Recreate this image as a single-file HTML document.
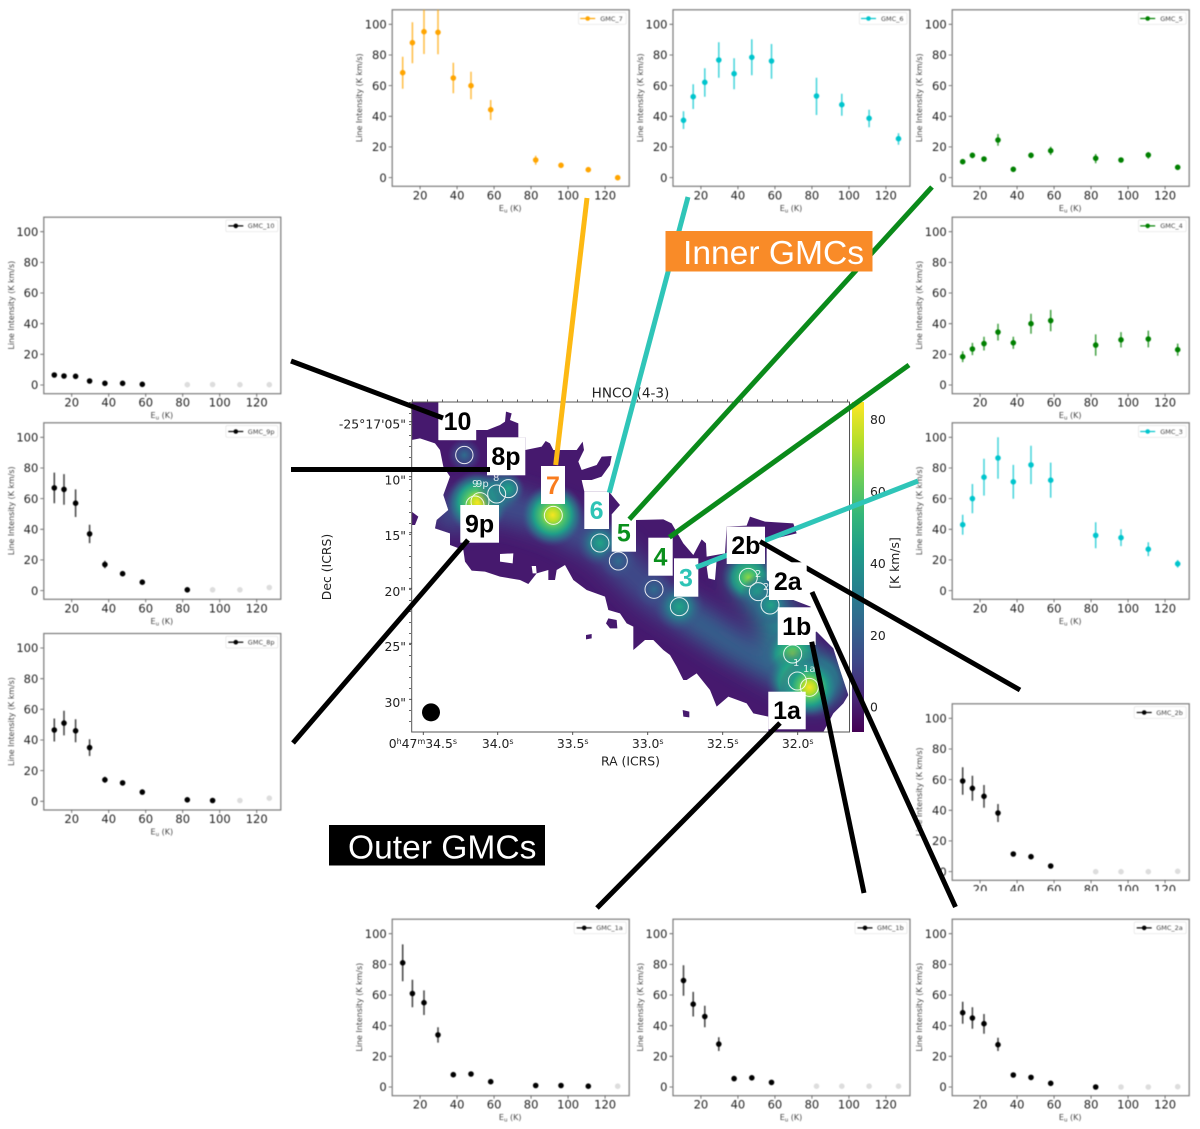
<!DOCTYPE html>
<html><head><meta charset="utf-8"><title>HNCO GMCs</title>
<style>
html,body{margin:0;padding:0;background:#fff}
svg{display:block;font-family:"DejaVu Sans",sans-serif}
.t{font-size:11.5px;fill:#222}
.l{font-size:7.9px;fill:#444}
.g{font-size:6.5px;fill:#444}
.m{font-size:12.4px;fill:#222}
.b{font-family:"Liberation Sans",sans-serif;font-weight:bold;font-size:25px;text-anchor:middle}
.h{font-family:"Liberation Sans",sans-serif;font-size:33.6px;fill:#fff}
.w{font-size:10px;fill:#fff;opacity:.85}
.e{fill:none;stroke-width:1.6;opacity:.7}
.p{fill:none;stroke-width:5.6;stroke-linecap:round}
.d{fill:none;stroke:#ddd;stroke-width:5.6;stroke-linecap:round}
.s{fill:#fff;stroke:#e4e4e4;stroke-width:.7}
</style></head><body>
<svg xmlns="http://www.w3.org/2000/svg" width="1200" height="1129" viewBox="0 0 1200 1129">
<defs>
<g id="ax">
<rect x=".5" y=".5" width="237" height="176.5" fill="#fff" stroke="#7a7a7a" stroke-width="1.2"/>
<path d="M28.4 177v3M65.4 177v3M102.4 177v3M139.4 177v3M176.4 177v3M213.4 177v3M0 168.3h-3M0 137.6h-3M0 107h-3M0 76.3h-3M0 45.7h-3M0 15h-3" stroke="#555" stroke-width=".8"/>
<g class="t" text-anchor="middle"><text x="28.4" y="190">20</text><text x="65.4" y="190">40</text><text x="102.4" y="190">60</text><text x="139.4" y="190">80</text><text x="176.4" y="190">100</text><text x="213.4" y="190">120</text></g>
<g class="t" text-anchor="end"><text x="-5" y="172.5">0</text><text x="-5" y="141.8">20</text><text x="-5" y="111.2">40</text><text x="-5" y="80.5">60</text><text x="-5" y="49.9">80</text><text x="-5" y="19.2">100</text></g>
<text class="l" transform="translate(-29.5 88.5) rotate(-90)" text-anchor="middle">Line Intensity (K km/s)</text>
<text class="l" x="118.5" y="201.5" text-anchor="middle" style="font-size:8px">E<tspan font-size="5.5" dy="1.5">u</tspan><tspan dy="-1.5"> (K)</tspan></text>
</g>
<linearGradient id="vir" x1="0" y1="1" x2="0" y2="0"><stop offset="0" stop-color="#440154"/><stop offset=".11" stop-color="#482878"/><stop offset=".22" stop-color="#3e4a89"/><stop offset=".33" stop-color="#31688e"/><stop offset=".44" stop-color="#26828e"/><stop offset=".55" stop-color="#1f9e89"/><stop offset=".66" stop-color="#35b779"/><stop offset=".77" stop-color="#6ece58"/><stop offset=".88" stop-color="#b5de2b"/><stop offset="1" stop-color="#fde725"/></linearGradient>
<radialGradient id="gY"><stop offset="0" stop-color="#f6e620"/><stop offset=".2" stop-color="#b5de2b"/><stop offset=".38" stop-color="#4ec36b"/><stop offset=".6" stop-color="#1f9e89"/><stop offset=".8" stop-color="#2c7a8e" stop-opacity=".6"/><stop offset="1" stop-color="#3e4a89" stop-opacity="0"/></radialGradient>
<radialGradient id="gG"><stop offset="0" stop-color="#8bd646"/><stop offset=".3" stop-color="#35b779"/><stop offset=".6" stop-color="#1f9e89" stop-opacity=".8"/><stop offset="1" stop-color="#3e4a89" stop-opacity="0"/></radialGradient>
<radialGradient id="gT"><stop offset="0" stop-color="#20a486"/><stop offset=".45" stop-color="#26828e" stop-opacity=".85"/><stop offset="1" stop-color="#3e4a89" stop-opacity="0"/></radialGradient>
<radialGradient id="gB"><stop offset="0" stop-color="#2f6c8e"/><stop offset=".55" stop-color="#3b528b" stop-opacity=".7"/><stop offset="1" stop-color="#3e4a89" stop-opacity="0"/></radialGradient>
<filter id="bl" x="-20%" y="-20%" width="140%" height="140%"><feGaussianBlur stdDeviation="32"/></filter>
<clipPath id="cp"><path d="M35 66H115V180H228V150H262L300 135 315 125 318 95 335 100 330 120 355 130V172H376V210L425 200 437 183 450 190 460 210H530L548 185 552 210 535 245 545 270 590 255 605 230 635 228 630 255 605 290 575 300H545L553 335H627L635 345 660 375 635 403 708 420 790 418 815 430 850 490 880 525 905 478 918 490 920 530 975 520 980 440 1040 437 1050 410 1095 425 1180 430 1190 460 1100 482V600L1180 660 1232 680V760L1250 755 1300 805 1320 870 1345 945 1330 970 1300 1000 1270 1056H1105V1010L1060 1000 1040 970 985 950 950 980 930 930 890 880 860 900H850L830 860 810 825 790 810 760 780H735L700 810V740L680 730 660 700 625 690 615 650 560 630 520 600 495 555 470 570 465 600H445V570L410 580 385 612 360 600 300 590 255 575 215 572 195 545 190 510 150 495V460L105 445 110 420 145 390 130 345 150 290 130 260 120 210 105 190 60 175 35 180Z"/></clipPath>
</defs>

<g style="filter:blur(.4px)">
<!-- GMC_7 -->
<g transform="translate(391.7 9.3)"><use href="#ax"/>
<rect class="s" x="186.8" y="3.3" width="47.7" height="11.7" rx="1.5"/><path d="M188.5 9.2h15" stroke="#ffa500" stroke-width="1.2"/><circle cx="196" cy="9.2" r="2.3" fill="#ffa500"/><text class="g" x="208.5" y="11.5">GMC_7</text>
<path class="e" stroke="#ffa500" d="M11 47.4V79.4M20.7 13V54M32.3 .5V44.7M46.3 .5V45M61.6 53.4V84M79.3 62.4V90M99 90.7V110.7M144 146.4V155.4"/>
<path class="p" stroke="#ffa500" d="M11 63.4h0M20.7 33.4h0M32.3 22.4h0M46.3 23h0M61.6 68.7h0M79.3 76.4h0M99 100.4h0M144 150.7h0M169.3 156h0M196.6 160.4h0M226 168.4h0"/></g>
<!-- GMC_6 -->
<g transform="translate(672.5 9.3)"><use href="#ax"/>
<rect class="s" x="186.8" y="3.3" width="47.7" height="11.7" rx="1.5"/><path d="M188.5 9.2h15" stroke="#00c5cd" stroke-width="1.2"/><circle cx="196" cy="9.2" r="2.3" fill="#00c5cd"/><text class="g" x="208.5" y="11.5">GMC_6</text>
<path class="e" stroke="#00c5cd" d="M11 102V119.7M20.7 75V99.7M32.3 59V87.4M46.3 33V68.4M61.6 49V80M79.3 30V66M99 34.7V69.4M144 68.4V105.7M169.3 84.4V106.4M196.6 100.4V118M226 124V135.4"/>
<path class="p" stroke="#00c5cd" d="M11 111h0M20.7 87.4h0M32.3 73h0M46.3 50.7h0M61.6 64.4h0M79.3 48h0M99 51.7h0M144 86.7h0M169.3 95.4h0M196.6 109h0M226 129.4h0"/></g>
<!-- GMC_5 -->
<g transform="translate(951.7 9.3)"><use href="#ax"/>
<rect class="s" x="186.8" y="3.3" width="47.7" height="11.7" rx="1.5"/><path d="M188.5 9.2h15" stroke="#008000" stroke-width="1.2"/><circle cx="196" cy="9.2" r="2.3" fill="#008000"/><text class="g" x="208.5" y="11.5">GMC_5</text>
<path class="e" stroke="#008000" d="M11 150V155M20.7 143.4V149M32.3 147.4V152.4M46.3 124.7V136.4M61.6 158V162M79.3 143.4V149M99 137.4V145.7M144 144.7V154M169.3 148.7V153M196.6 142.7V149.4M226 156V160"/>
<path class="p" stroke="#008000" d="M11 152.4h0M20.7 146h0M32.3 149.7h0M46.3 130.7h0M61.6 160h0M79.3 146h0M99 141.4h0M144 149h0M169.3 150.7h0M196.6 145.7h0M226 158h0"/></g>
<!-- GMC_4 -->
<g transform="translate(951.7 216.7)"><use href="#ax"/>
<rect class="s" x="186.8" y="3.3" width="47.7" height="11.7" rx="1.5"/><path d="M188.5 9.2h15" stroke="#008000" stroke-width="1.2"/><circle cx="196" cy="9.2" r="2.3" fill="#008000"/><text class="g" x="208.5" y="11.5">GMC_4</text>
<path class="e" stroke="#008000" d="M11 134.6V145.4M20.7 126.2V138.4M32.3 120V133.8M46.3 107V123.8M61.6 120V132.2M79.3 97V117M99 93.2V114.6M144 117.7V139.1M169.3 115.4V130.8M196.6 113.9V130.7M226 126.9V139.1"/>
<path class="p" stroke="#008000" d="M11 140h0M20.7 132.3h0M32.3 126.9h0M46.3 115.4h0M61.6 126.1h0M79.3 107h0M99 103.9h0M144 128.4h0M169.3 123.1h0M196.6 122.3h0M226 133h0"/></g>
<!-- GMC_3 -->
<g transform="translate(951.7 422.3)"><use href="#ax"/>
<rect class="s" x="186.8" y="3.3" width="47.7" height="11.7" rx="1.5"/><path d="M188.5 9.2h15" stroke="#00c5cd" stroke-width="1.2"/><circle cx="196" cy="9.2" r="2.3" fill="#00c5cd"/><text class="g" x="208.5" y="11.5">GMC_3</text>
<path class="e" stroke="#00c5cd" d="M11 92.4V112.4M20.7 61.7V90.9M32.3 36.5V73.3M46.3 15V56.4M61.6 42.6V76.4M79.3 23.4V61.8M99 40.3V75.5M144 100V126M169.3 107V123.8M196.6 120V133.8M226 137.7V145.3"/>
<path class="p" stroke="#00c5cd" d="M11 102.4h0M20.7 76.3h0M32.3 54.9h0M46.3 35.7h0M61.6 59.5h0M79.3 42.6h0M99 57.9h0M144 113.1h0M169.3 115.4h0M196.6 126.9h0M226 141.5h0"/></g>
<!-- GMC_2b -->
<g transform="translate(951.7 703.3)"><use href="#ax"/>
<rect class="s" x="182.5" y="3.3" width="52" height="11.7" rx="1.5"/><path d="M185 9.2h15" stroke="#000" stroke-width="1.2"/><circle cx="192.5" cy="9.2" r="2.3" fill="#000"/><text class="g" x="204.5" y="11.5">GMC_2b</text>
<path class="e" stroke="#000" d="M11 64V91.4M20.7 72.4V97.4M32.3 81.7V104.4M46.3 100.7V118.7"/>
<path class="d" d="M144 168.4h0M169.3 168.4h0M196.6 168.4h0M226 168h0"/>
<path class="p" stroke="#000" d="M11 77.7h0M20.7 85h0M32.3 93h0M46.3 109.7h0M61.6 150.7h0M79.3 153.4h0M99 162.7h0"/></g>
<rect x="900" y="891" width="300" height="27" fill="#fff"/>
<!-- GMC_1a -->
<g transform="translate(391.7 918.7)"><use href="#ax"/>
<rect class="s" x="182.5" y="3.3" width="52" height="11.7" rx="1.5"/><path d="M185 9.2h15" stroke="#000" stroke-width="1.2"/><circle cx="192.5" cy="9.2" r="2.3" fill="#000"/><text class="g" x="204.5" y="11.5">GMC_1a</text>
<path class="e" stroke="#000" d="M11 25.7V62.5M20.7 61V88.6M32.3 71.7V96.3M46.3 108.5V123.9"/>
<path class="d" d="M226 167.5h0"/>
<path class="p" stroke="#000" d="M11 44.1h0M20.7 74.8h0M32.3 84h0M46.3 116.2h0M61.6 156h0M79.3 155.3h0M99 163h0M144 166.8h0M169.3 166.8h0M196.6 167.5h0"/></g>
<!-- GMC_1b -->
<g transform="translate(672.5 918.7)"><use href="#ax"/>
<rect class="s" x="182.5" y="3.3" width="52" height="11.7" rx="1.5"/><path d="M185 9.2h15" stroke="#000" stroke-width="1.2"/><circle cx="192.5" cy="9.2" r="2.3" fill="#000"/><text class="g" x="204.5" y="11.5">GMC_1b</text>
<path class="e" stroke="#000" d="M11 46.5V77.1M20.7 73.2V97.8M32.3 87.1V108.5M46.3 118.5V132.3"/>
<path class="d" d="M144 167.5h0M169.3 167.5h0M196.6 167.5h0M226 167.5h0"/>
<path class="p" stroke="#000" d="M11 61.8h0M20.7 85.5h0M32.3 97.8h0M46.3 125.4h0M61.6 159.9h0M79.3 159.1h0M99 163.7h0"/></g>
<!-- GMC_2a -->
<g transform="translate(951.7 918.7)"><use href="#ax"/>
<rect class="s" x="182.5" y="3.3" width="52" height="11.7" rx="1.5"/><path d="M185 9.2h15" stroke="#000" stroke-width="1.2"/><circle cx="192.5" cy="9.2" r="2.3" fill="#000"/><text class="g" x="204.5" y="11.5">GMC_2a</text>
<path class="e" stroke="#000" d="M11 83V105M20.7 88.6V110M32.3 95.3V115M46.3 119V132.3"/>
<path class="d" d="M169.3 168.3h0M196.6 168.3h0M226 168h0"/>
<path class="p" stroke="#000" d="M11 94h0M20.7 99.3h0M32.3 105h0M46.3 126h0M61.6 156.3h0M79.3 158.7h0M99 164.6h0M144 168.3h0"/></g>
<!-- GMC_10 -->
<g transform="translate(43.3 216.7)"><use href="#ax"/>
<rect class="s" x="182.5" y="3.3" width="52" height="11.7" rx="1.5"/><path d="M185 9.2h15" stroke="#000" stroke-width="1.2"/><circle cx="192.5" cy="9.2" r="2.3" fill="#000"/><text class="g" x="204.5" y="11.5">GMC_10</text>
<path class="d" d="M144 168h0M169.3 167.8h0M196.6 168h0M226 168h0"/>
<path class="p" stroke="#000" d="M11 158.3h0M20.7 159.3h0M32.3 159.6h0M46.3 164.3h0M61.6 166.6h0M79.3 166.6h0M99 167.6h0"/></g>
<!-- GMC_9p -->
<g transform="translate(43.3 422.3)"><use href="#ax"/>
<rect class="s" x="182.5" y="3.3" width="52" height="11.7" rx="1.5"/><path d="M185 9.2h15" stroke="#000" stroke-width="1.2"/><circle cx="192.5" cy="9.2" r="2.3" fill="#000"/><text class="g" x="204.5" y="11.5">GMC_9p</text>
<path class="e" stroke="#000" d="M11 50.3V80.9M20.7 51.8V82.4M32.3 67.1V94.7M46.3 102.4V120.8M61.6 138.4V146M79.3 149.9V152.9"/>
<path class="d" d="M169.3 167.5h0M196.6 167.5h0M226 165.2h0"/>
<path class="p" stroke="#000" d="M11 65.6h0M20.7 67.1h0M32.3 80.9h0M46.3 111.6h0M61.6 142.2h0M79.3 151.4h0M99 159.9h0M144 167.5h0"/></g>
<!-- GMC_8p -->
<g transform="translate(43.3 633)"><use href="#ax"/>
<rect class="s" x="182.5" y="3.3" width="52" height="11.7" rx="1.5"/><path d="M185 9.2h15" stroke="#000" stroke-width="1.2"/><circle cx="192.5" cy="9.2" r="2.3" fill="#000"/><text class="g" x="204.5" y="11.5">GMC_8p</text>
<path class="e" stroke="#000" d="M11 85.5V108.5M20.7 77.8V102.4M32.3 86.3V109.3M46.3 106.2V123M61.6 143.8V149.8M79.3 148.4V151.4"/>
<path class="d" d="M196.6 167.5h0M226 165.2h0"/>
<path class="p" stroke="#000" d="M11 97h0M20.7 90.1h0M32.3 97.8h0M46.3 114.6h0M61.6 146.8h0M79.3 149.9h0M99 159.1h0M144 166.8h0M169.3 167.5h0"/></g>
</g>

<!-- map -->
<g transform="translate(400 380) scale(.33333)">
<rect x="35" y="66" width="1313" height="990" fill="#fff"/>
<g clip-path="url(#cp)">
<rect x="35" y="66" width="1313" height="990" fill="#46196e"/>
<g filter="url(#bl)" fill="none" stroke-linecap="round" stroke-linejoin="round">
<path d="M150 400L300 370 460 420 600 490 760 640 1000 790 1200 900" stroke="#3d4d8a" stroke-width="105"/>
<path d="M1040 590L1110 680 1185 830 1230 925" stroke="#26828e" stroke-width="110"/>
<path d="M830 680L1000 810 1130 880" stroke="#31688e" stroke-width="60"/>
</g>
<circle cx="232" cy="368" r="95" fill="url(#gY)"/>
<circle cx="458" cy="405" r="95" fill="url(#gY)"/>
<circle cx="300" cy="335" r="70" fill="url(#gT)"/>
<circle cx="325" cy="326" r="50" fill="url(#gT)"/>
<circle cx="193" cy="225" r="50" fill="url(#gB)"/>
<circle cx="600" cy="489" r="70" fill="url(#gT)"/>
<circle cx="655" cy="543" r="55" fill="url(#gB)"/>
<circle cx="762" cy="628" r="55" fill="url(#gB)"/>
<circle cx="838" cy="680" r="75" fill="url(#gT)"/>
<circle cx="1045" cy="592" r="80" fill="url(#gG)"/>
<circle cx="1078" cy="638" r="55" fill="url(#gT)"/>
<circle cx="1112" cy="675" r="60" fill="url(#gT)"/>
<circle cx="1255" cy="900" r="120" fill="url(#gT)"/>
<circle cx="1178" cy="822" r="85" fill="url(#gG)"/>
<circle cx="1192" cy="900" r="95" fill="url(#gG)"/>
<circle cx="1228" cy="922" r="90" fill="url(#gY)"/>
</g>
<path d="M35 395L55 410 45 435H35ZM625 715L650 720 652 745 630 745 618 730ZM848 990L868 995 868 1012 850 1010ZM558 765L575 762 575 775 558 778Z" fill="#46196e"/>
<path d="M920 560L950 540 945 600 925 595ZM300 522L340 520 338 550 300 545ZM395 558L408 558 410 580 398 580Z" fill="#fff"/>
<g fill="none" stroke="#fff" stroke-width="3" opacity=".88">
<circle cx="193" cy="225" r="26"/><circle cx="325" cy="326" r="27"/><circle cx="290" cy="342" r="27"/><circle cx="240" cy="365" r="27"/><circle cx="225" cy="375" r="27"/><circle cx="460" cy="406" r="27"/><circle cx="600" cy="489" r="27"/><circle cx="655" cy="543" r="27"/><circle cx="762" cy="628" r="27"/><circle cx="838" cy="680" r="27"/><circle cx="1045" cy="592" r="27"/><circle cx="1075" cy="635" r="27"/><circle cx="1110" cy="675" r="27"/><circle cx="1178" cy="822" r="27"/><circle cx="1192" cy="903" r="27"/><circle cx="1228" cy="922" r="27"/>
</g>
<circle cx="93" cy="997" r="27" fill="#000"/>
</g>
<g class="w">
<text x="472" y="487">9</text><text x="476" y="487">9p</text><text x="493" y="481">8</text><text x="755" y="577">2</text><text x="763" y="590">2a</text><text x="793" y="666">1</text><text x="803" y="672">1a</text>
</g>
<rect x="411.7" y="402" width="437.8" height="330" fill="none" stroke="#555" stroke-width="1"/>
<path d="M409 421.7h3M409 476.7h3M409 532.7h3M409 588.3h3M409 643.3h3M409 699.3h3M423.3 732v3M497.7 732v3M572.7 732v3M647.7 732v3M722.7 732v3M797.7 732v3" stroke="#444" stroke-width=".9"/>
<line x1="410" y1="402" x2="410" y2="732" stroke="#666" stroke-width="2" stroke-dasharray="1 10"/>
<line x1="412" y1="400.5" x2="850" y2="400.5" stroke="#666" stroke-width="2" stroke-dasharray="1 14"/>
<rect x="852" y="402" width="12" height="330" fill="url(#vir)"/>
<text class="m" x="630.5" y="397.3" text-anchor="middle" style="font-size:13.6px">HNCO (4-3)</text>
<g class="m" text-anchor="end">
<text x="406" y="428.5">-25°17'05"</text><text x="406" y="484.5">10"</text><text x="406" y="540">15"</text><text x="406" y="596">20"</text><text x="406" y="651">25"</text><text x="406" y="707">30"</text>
</g>
<g class="m" text-anchor="end">
<text x="457" y="748">0<tspan font-size="8" dy="-4">h</tspan><tspan dy="4">47</tspan><tspan font-size="8" dy="-4">m</tspan><tspan dy="4">34.5</tspan><tspan font-size="8" dy="-4">s</tspan></text>
</g>
<g class="m" text-anchor="middle">
<text x="497.7" y="748">34.0<tspan font-size="8" dy="-4">s</tspan></text>
<text x="572.7" y="748">33.5<tspan font-size="8" dy="-4">s</tspan></text>
<text x="647.7" y="748">33.0<tspan font-size="8" dy="-4">s</tspan></text>
<text x="722.7" y="748">32.5<tspan font-size="8" dy="-4">s</tspan></text>
<text x="797.7" y="748">32.0<tspan font-size="8" dy="-4">s</tspan></text>
<text x="630.5" y="765.7">RA (ICRS)</text>
<text transform="translate(331 567) rotate(-90)">Dec (ICRS)</text>
<text transform="translate(899 563) rotate(-90)">[K km/s]</text>
</g>
<g class="m">
<text x="870" y="424">80</text><text x="870" y="496">60</text><text x="870" y="568">40</text><text x="870" y="640">20</text><text x="870" y="711.5">0</text>
</g>

<!-- label boxes (below connectors) -->
<g fill="#fff">
<rect x="438.7" y="402.7" width="37.5" height="37.5"/><rect x="487" y="437.3" width="38.3" height="38"/><rect x="541" y="466" width="24" height="38"/><rect x="584.3" y="491.7" width="24.7" height="37.3"/><rect x="611.7" y="514.3" width="24.3" height="37.4"/><rect x="648.3" y="537.7" width="24.4" height="38"/><rect x="674" y="558.3" width="24.3" height="38.4"/><rect x="777.7" y="607.3" width="38" height="37.7"/><rect x="768.3" y="691.7" width="37.4" height="37.6"/><rect x="460.3" y="505" width="38.7" height="37.7"/>
</g>
<!-- connectors -->
<g fill="none" stroke-width="5">
<path d="M918 481L696 567.3" stroke="#2fc5b8"/>
</g>
<rect x="726.7" y="526.7" width="38.3" height="37.3" fill="#fff"/>
<path d="M1020 690L760 541.5" fill="none" stroke="#000" stroke-width="5"/>
<rect x="769" y="562.3" width="37.7" height="37.7" fill="#fff"/>
<g fill="none" stroke-width="5">
<path d="M587 198L555.7 465" stroke="#fdb913"/>
<path d="M688 197L609.3 492.7" stroke="#2fc5b8"/>
<path d="M932 187L629.3 519.3" stroke="#0a8a1a"/>
<path d="M909 365L669.3 537.3" stroke="#0a8a1a"/>
<g stroke="#000">
<path d="M291 361L443 418"/><path d="M291 469.5H490"/><path d="M293 743L468 540"/><path d="M597 908L780 723"/><path d="M864 893L811.7 641.7"/><path d="M955.5 907L812 592"/>
</g>
</g>
<!-- label text -->
<g class="b">
<text x="457.5" y="430">10</text><text x="506" y="465">8p</text><text x="553" y="494" fill="#f97c1e">7</text><text x="596.6" y="519" fill="#2ec4b6">6</text><text x="623.8" y="541.7" fill="#0a8f1c">5</text><text x="660.5" y="565.7" fill="#0a8f1c">4</text><text x="686" y="586.7" fill="#2ec4b6">3</text><text x="745.8" y="554">2b</text><text x="787.8" y="590">2a</text><text x="796.7" y="635">1b</text><text x="787" y="719">1a</text><text x="479.6" y="532.7">9p</text>
</g>
<!-- banners -->
<rect x="665.5" y="231" width="207" height="40.5" fill="#f98b28"/>
<text class="h" x="683" y="264">Inner GMCs</text>
<rect x="329" y="825" width="216" height="40.5" fill="#000"/>
<text class="h" x="348" y="858.5">Outer GMCs</text>
</svg>
</body></html>
